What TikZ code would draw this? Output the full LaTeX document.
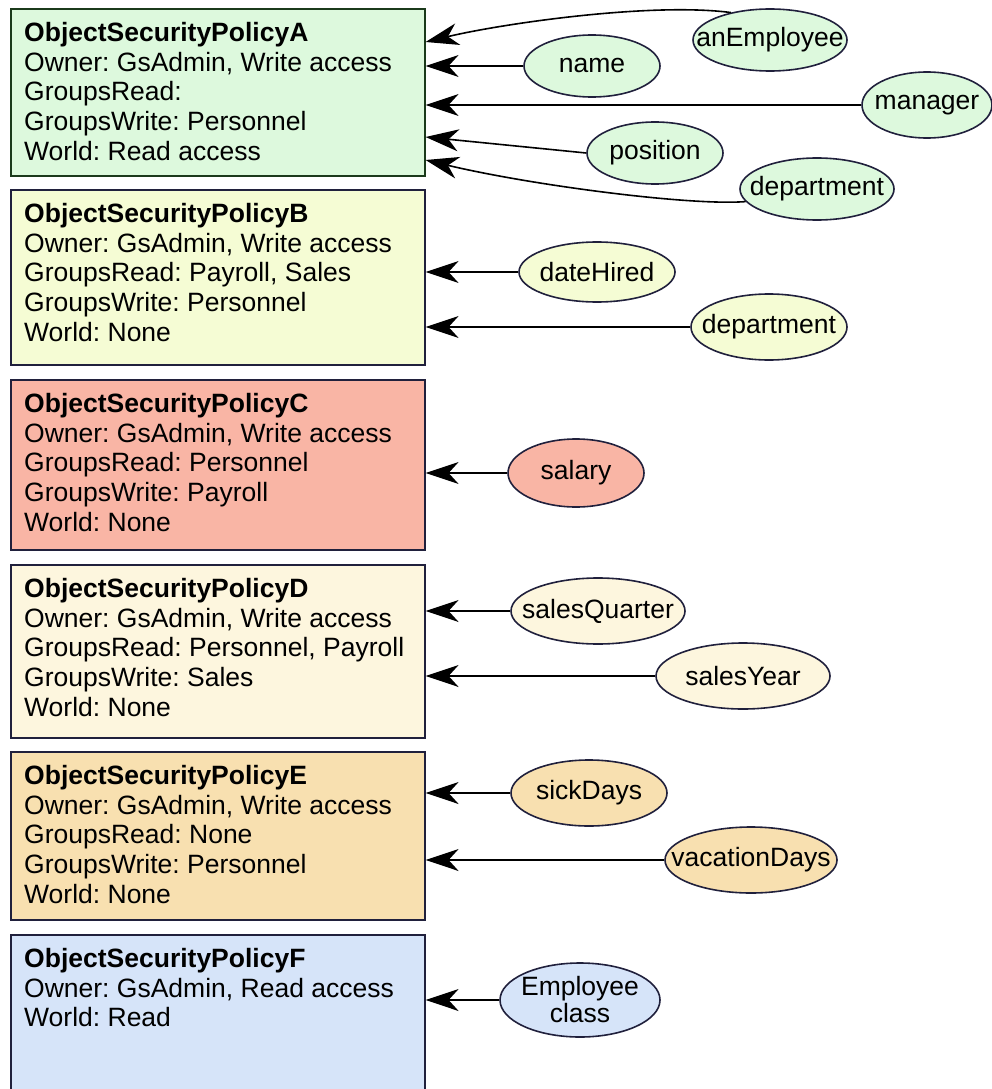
\documentclass[tikz,border=0pt]{standalone}
\usepackage{fontspec}
\setmainfont{Liberation Sans}
\usetikzlibrary{shapes.geometric,arrows.meta,calc}
\definecolor{fA}{HTML}{DDF9DD}
\definecolor{fB}{HTML}{F5FCD4}
\definecolor{fC}{HTML}{F9B5A5}
\definecolor{fD}{HTML}{FDF6DE}
\definecolor{fE}{HTML}{F8E0B0}
\definecolor{fF}{HTML}{D6E4F9}
\definecolor{bGreen}{HTML}{1B3A1B}
\definecolor{bNavy}{HTML}{20203C}
\frenchspacing
\begin{document}
\begin{tikzpicture}[x=1pt,y=-1pt,
  box/.style={draw=bNavy, line width=1.6pt, anchor=north west, inner sep=0pt, minimum width=414pt},
  txt/.style={anchor=north west, inner sep=0pt, align=left, font=\fontsize{26.5}{29.7}\selectfont},
  ell/.style={ellipse, draw=bNavy, line width=1.6pt, inner xsep=-45pt, inner ysep=0pt, align=center, font=\fontsize{26.5}{27}\selectfont},
  arr/.style={line width=1.6pt, -{Stealth[length=33pt,width=22pt,inset=10pt]}}]
\useasboundingbox (0,0) rectangle (992,1089);
% boxes
\node[box, fill=fA, draw=bGreen, minimum height=167pt] (A) at (10,8) {};
\node[box, fill=fB, minimum height=175pt] (B) at (10,189) {};
\node[box, fill=fC, minimum height=170pt] (C) at (10,379) {};
\node[box, fill=fD, minimum height=173pt] (D) at (10,564) {};
\node[box, fill=fE, minimum height=168pt] (E) at (10,751) {};
\node[box, fill=fF, minimum height=170pt] (F) at (10,934) {};
% texts
\node[txt] (tA) at (24,22) {\textbf{ObjectSecurityPolicyA}\\Owner: GsAdmin, Write access\\GroupsRead:\\GroupsWrite: Personnel\\World: Read access};
\node[txt] (tB) at (24,203) {\textbf{ObjectSecurityPolicyB}\\Owner: GsAdmin, Write access\\GroupsRead: Payroll, Sales\\GroupsWrite: Personnel\\World: None};
\node[txt] (tC) at (24,393) {\textbf{ObjectSecurityPolicyC}\\Owner: GsAdmin, Write access\\GroupsRead: Personnel\\GroupsWrite: Payroll\\World: None};
\node[txt] (tD) at (24,578) {\textbf{ObjectSecurityPolicyD}\\Owner: GsAdmin, Write access\\GroupsRead: Personnel, Payroll\\GroupsWrite: Sales\\World: None};
\node[txt] (tE) at (24,765) {\textbf{ObjectSecurityPolicyE}\\Owner: GsAdmin, Write access\\GroupsRead: None\\GroupsWrite: Personnel\\World: None};
\node[txt] (tF) at (24,948) {\textbf{ObjectSecurityPolicyF}\\Owner: GsAdmin, Read access\\World: Read};
% ellipses
\node[ell, fill=fA, minimum width=154pt, minimum height=62pt] (anE) at (770,40) {anEmployee};
\node[ell, fill=fA, minimum width=136pt, minimum height=62pt] (name) at (592,66) {name};
\node[ell, fill=fA, minimum width=130pt, minimum height=66pt] (manager) at (927,105) {manager};
\node[ell, fill=fA, minimum width=136pt, minimum height=62pt] (position) at (655,153) {position};
\node[ell, fill=fA, minimum width=154pt, minimum height=62pt] (deptA) at (817,189) {department};
\node[ell, fill=fB, minimum width=156pt, minimum height=60pt] (dateHired) at (597,272) {dateHired};
\node[ell, fill=fB, minimum width=156pt, minimum height=66pt] (deptB) at (769,327) {department};
\node[ell, fill=fC, minimum width=136pt, minimum height=68pt] (salary) at (576,473) {salary};
\node[ell, fill=fD, minimum width=174pt, minimum height=66pt] (salesQ) at (598,611) {salesQuarter};
\node[ell, fill=fD, minimum width=174pt, minimum height=66pt] (salesY) at (743,676) {salesYear};
\node[ell, fill=fE, minimum width=156pt, minimum height=66pt] (sick) at (589,793) {sickDays};
\node[ell, fill=fE, minimum width=172pt, minimum height=66pt] (vac) at (751,860) {vacationDays};
\node[ell, fill=fF, minimum width=160pt, minimum height=74pt] (emp) at (580,1000) {Employee\\class};
% connectors
\draw[arr] (anE.145) .. controls (650,2) and (500,24) .. ($(A.north east)+(0,34)$);
\draw[arr] (name.west) -- (name.west -| A.east);
\draw[arr] (manager.west) -- (manager.west -| A.east);
\draw[arr] (position.west) -- ($(A.north east)+(0,129)$);
\draw[arr] (deptA.190) .. controls (690,206) and (530,185) .. ($(A.north east)+(0,152)$);
\draw[arr] (dateHired.west) -- (dateHired.west -| B.east);
\draw[arr] (deptB.west) -- (deptB.west -| B.east);
\draw[arr] (salary.west) -- (salary.west -| C.east);
\draw[arr] (salesQ.west) -- (salesQ.west -| D.east);
\draw[arr] (salesY.west) -- (salesY.west -| D.east);
\draw[arr] (sick.west) -- (sick.west -| E.east);
\draw[arr] (vac.west) -- (vac.west -| E.east);
\draw[arr] (emp.west) -- (emp.west -| F.east);
\end{tikzpicture}
\end{document}
